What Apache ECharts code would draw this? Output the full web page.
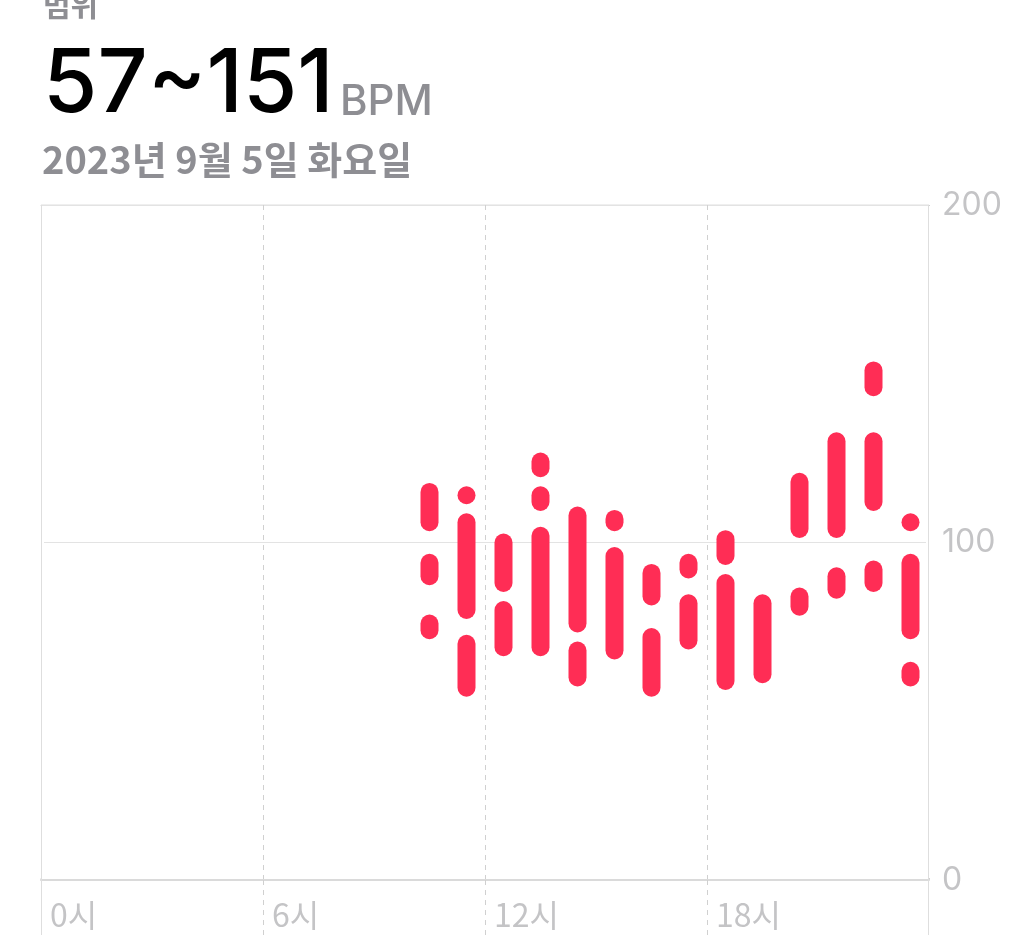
<!DOCTYPE html>
<html>
<head>
<meta charset="utf-8">
<script src="https://cdn.jsdelivr.net/npm/echarts@6/dist/echarts.min.js"></script>
<style>
html,body{margin:0;padding:0;background:#fff;}
#chart{width:1024px;height:948px;}
</style>
</head>
<body>
<div id="chart"></div>
<script>
// ---- data ----
var titleLabel = '범위';
var unitLabel = 'BPM';
var dateLabel = '2023년 9월 5일 화요일';
var hourTicks = [0, 6, 12, 18];
var hourTickLabels = ['0시', '6시', '12시', '18시'];
var bpmTicks = [0, 100, 200];
// each segment: hour of day, low bpm, high bpm
var segHour = [10,10,10, 11,11,11, 12,12, 13,13,13, 14,14, 15,15, 16,16, 17,17, 18,18, 19, 20,20, 21,21, 22,22,22, 23,23,23];
var segLow  = [106,90,74, 114,80,57, 88,69, 122,112,69, 76,60, 106,68, 84,57, 92,71, 96,59, 61, 104,81, 104,86, 146,112,88, 106,74,60];
var segHigh = [115,94,76, 114,106,70, 100,80, 124,114,102, 108,68, 107,96, 91,72, 94,82, 101,88, 82, 118,84, 130,90, 151,130,92, 106,94,62];

var data = segHour.map(function (h, i) { return [h + 0.5, segLow[i], segHigh[i]]; });
var minV = Math.min.apply(null, segLow);
var maxV = Math.max.apply(null, segHigh);

var chart = echarts.init(document.getElementById('chart'));
var gray = '#8e8e93';
var lblGray = '#c4c4c6';
var lineGray = '#dedede';
var numFont = 'Inter, Roboto, "Noto Sans CJK KR", sans-serif';
var korFont = '"Noto Sans CJK KR", Inter, sans-serif';

var headerGraphics = [
  { type: 'text', id: 'title', left: 43, top: -10, style: { text: titleLabel, font: '600 30px ' + korFont, fill: gray } },
  { type: 'text', id: 'range', x: 43, y: 86, style: { text: minV + '~' + maxV, font: '500 88px ' + numFont, fill: '#000', verticalAlign: 'middle' } },
  { type: 'text', id: 'unit', x: 340, y: 102, style: { text: unitLabel, font: '500 42px ' + numFont, fill: gray, verticalAlign: 'middle' } },
  { type: 'text', id: 'date', x: 42, y: 160, style: { text: dateLabel, font: '600 38px ' + korFont, fill: gray, verticalAlign: 'middle' } }
];

var option = {
  animation: false,
  backgroundColor: '#ffffff',
  grid: { left: 41, right: 95, top: 205, bottom: 68, show: true, borderColor: lineGray, borderWidth: 1, backgroundColor: 'transparent' },
  xAxis: {
    type: 'value', min: 0, max: 24, interval: 6,
    axisLine: { show: true, lineStyle: { color: '#dadada', width: 2 } },
    axisTick: { show: true, inside: false, length: 55, lineStyle: { color: '#d0d0d0', width: 1, type: [5, 5] } },
    splitLine: { show: true, lineStyle: { color: '#d0d0d0', width: 1, type: [5, 5] } },
    axisLabel: {
      showMaxLabel: false,
      align: 'left', verticalAlign: 'middle', margin: 35, padding: [0, 0, 0, 9],
      fontSize: 32, color: lblGray, fontFamily: korFont,
      formatter: function (v) { var i = hourTicks.indexOf(v); return i >= 0 ? hourTickLabels[i] : ''; }
    }
  },
  yAxis: {
    type: 'value', position: 'right', min: 0, max: 200, interval: 100,
    axisLine: { show: false },
    axisTick: { show: false },
    splitLine: { show: true, lineStyle: { color: '#e3e3e3', width: 1 } },
    axisLabel: {
      margin: 13, fontSize: 32, color: lblGray, fontFamily: numFont,
      formatter: function (v) { return bpmTicks.indexOf(v) >= 0 ? String(v) : ''; }
    }
  },
  series: [{
    type: 'custom',
    data: data,
    encode: { x: 0, y: [1, 2] },
    renderItem: function (params, api) {
      var x = api.value(0), lo = api.value(1), hi = api.value(2);
      var pTop = api.coord([x, hi]);
      var pBot = api.coord([x, lo]);
      var w = 18, r = w / 2;
      return {
        type: 'rect',
        shape: { x: pTop[0] - r, y: pTop[1] - r, width: w, height: pBot[1] - pTop[1] + w, r: r },
        style: { fill: '#ff2d55' }
      };
    }
  }],
  graphic: headerGraphics
};
chart.setOption(option);

// solid left/right borders, extended below the axis
var pLT = chart.convertToPixel({ gridIndex: 0 }, [0, 200]);
var pL = chart.convertToPixel({ gridIndex: 0 }, [0, 0]);
var pRT = chart.convertToPixel({ gridIndex: 0 }, [24, 200]);
var pR = chart.convertToPixel({ gridIndex: 0 }, [24, 0]);
function mask(id, x, y1, y2) {
  return { type: 'rect', id: id, shape: { x: x - 3, y: y1, width: 6, height: y2 - y1 }, style: { fill: '#fff' }, z: 9 };
}
chart.setOption({
  graphic: headerGraphics.concat([
    mask('maskL1', pL[0], pLT[1] + 1, pL[1] - 2),
    mask('maskL2', pL[0], pL[1] + 2, pL[1] + 56),
    mask('maskR1', pR[0], pRT[1] + 1, pR[1] - 2),
    mask('maskR2', pR[0], pR[1] + 2, pR[1] + 56),
    { type: 'line', id: 'bordL', shape: { x1: pL[0] + 0.5, y1: pLT[1], x2: pL[0] + 0.5, y2: pL[1] + 55 }, style: { stroke: lineGray, lineWidth: 1 }, z: 10 },
    { type: 'line', id: 'bordR', shape: { x1: pR[0] - 0.5, y1: pRT[1], x2: pR[0] - 0.5, y2: pR[1] + 55 }, style: { stroke: lineGray, lineWidth: 1 }, z: 10 }
  ])
});
</script>
</body>
</html>
